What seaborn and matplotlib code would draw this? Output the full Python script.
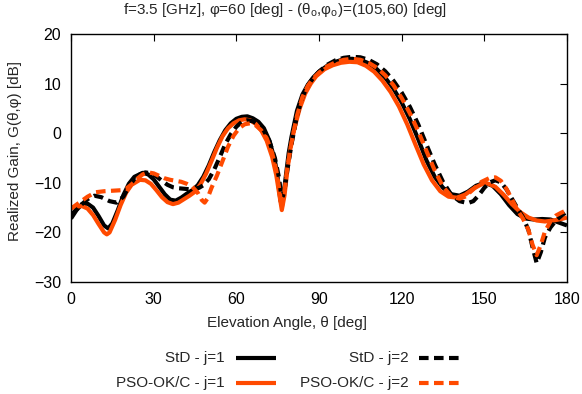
import matplotlib
matplotlib.use("Agg")
import matplotlib.pyplot as plt
from matplotlib.lines import Line2D
import seaborn as sns
import pandas as pd

# ---- data ----
theta_std1 = [0, 2, 4, 6, 8, 10, 12, 13.5, 15, 17, 19, 21, 23, 26, 28, 30, 32, 34, 36, 38, 40, 42, 44, 46, 48, 50,
              52, 54, 56, 58, 60, 62, 64, 66, 68, 70, 72, 74, 75, 76, 76.5, 77, 78, 79, 80, 82, 84, 86, 88, 90, 93,
              96, 99, 102, 105, 108, 111, 114, 117, 120, 123, 126, 129, 132, 135, 138, 141, 144, 147, 150, 153, 156,
              159, 162, 165, 168, 171, 174, 177, 180]
gain_std1 = [-17.2, -15.5, -14.3, -14.2, -15.0, -16.7, -18.6, -19.2, -18.2, -15.5, -12.5, -10.2, -8.8, -8.0, -8.3,
             -9.3, -10.8, -12.3, -13.4, -13.6, -13.0, -12.2, -11.5, -10.5, -8.8, -6.5, -3.8, -1.4, 0.6, 2.0, 2.9,
             3.3, 3.4, 3.0, 2.3, 1.0, -1.5, -5.5, -9.0, -13.5, -14.5, -13.0, -8.5, -4.0, -0.8, 4.5, 7.8, 9.8, 11.3,
             12.4, 13.6, 14.4, 14.9, 15.0, 14.8, 14.1, 12.9, 11.2, 9.0, 6.2, 2.8, -1.2, -5.5, -8.8, -11.0, -12.3,
             -12.6, -11.8, -10.6, -10.0, -10.6, -12.3, -14.5, -16.3, -17.2, -17.4, -17.3, -17.4, -18.0, -18.6]

theta_pso1 = [0, 2, 4, 6, 8, 10, 12, 13, 14, 16, 18, 20, 22, 25, 27, 29, 31, 33, 35, 37, 39, 41, 43, 45, 47, 49, 51,
              53, 55, 57, 59, 61, 63, 65, 67, 69, 71, 73, 74.5, 75.5, 76.5, 77.5, 78.5, 79.5, 81, 83, 85, 87, 89, 92,
              95, 98, 101, 104, 107, 110, 113, 116, 119, 122, 125, 128, 131, 134, 137, 140, 143, 146, 149, 151, 154,
              157, 160, 163, 166, 169, 172, 175, 178, 180]
gain_pso1 = [-15.0, -14.8, -14.7, -15.2, -16.5, -18.3, -20.0, -20.4, -20.0, -17.5, -14.5, -12.0, -10.4, -9.4, -9.5,
             -10.2, -11.5, -12.9, -13.9, -14.3, -14.0, -13.3, -12.6, -11.8, -10.3, -8.2, -5.6, -2.9, -0.6, 1.0, 2.0,
             2.6, 2.8, 2.6, 1.9, 0.6, -1.5, -4.8, -8.5, -12.0, -15.5, -12.5, -7.5, -3.5, 0.8, 5.0, 8.0, 10.0, 11.5,
             12.9, 13.7, 14.2, 14.4, 14.3, 13.6, 12.4, 10.6, 8.3, 5.4, 1.8, -2.3, -6.3, -9.5, -11.7, -12.8, -13.0,
             -12.4, -11.2, -10.3, -10.1, -10.8, -12.4, -14.3, -15.9, -17.0, -17.6, -17.8, -17.6, -17.3, -17.0]

theta_std2 = [0, 3, 6, 8.5, 11, 14, 16.5, 19, 21, 23, 25, 27, 29, 31, 33, 35, 37, 39, 41, 43, 45, 46.5, 48, 50, 52,
              54, 56, 58, 60, 62, 64, 66, 68, 70, 72, 74, 75.5, 76.5, 77.5, 78.5, 80, 82, 84, 86, 88, 90, 93, 96, 99,
              102, 105, 108, 111, 114, 117, 120, 123, 126, 129, 132, 135, 138, 141, 144, 146, 148, 150, 152, 154,
              156, 158, 160, 162, 164, 166, 167.5, 169, 170.5, 172, 174, 176, 178, 180]
gain_std2 = [-16.5, -14.8, -13.3, -12.6, -12.9, -13.7, -14.0, -12.8, -10.8, -9.2, -8.3, -7.9, -8.1, -8.7, -9.6,
             -10.4, -10.9, -11.1, -11.2, -11.3, -11.2, -11.0, -10.5, -9.3, -7.3, -4.8, -2.2, -0.2, 1.3, 2.3, 2.6,
             2.4, 1.7, 0.5, -1.6, -5.0, -9.0, -13.5, -11.5, -7.5, -2.3, 3.5, 7.3, 9.7, 11.2, 12.4, 13.8, 14.7, 15.2,
             15.4, 15.3, 14.8, 13.9, 12.5, 10.6, 8.2, 5.3, 1.8, -2.3, -6.3, -9.8, -12.4, -13.7, -14.1, -13.7, -12.5,
             -11.0, -9.9, -9.5, -9.9, -11.3, -13.2, -15.1, -16.9, -19.5, -23.0, -26.2, -24.0, -21.0, -19.0, -17.6,
             -16.6, -15.8]

theta_pso2 = [0, 3, 6, 9, 12, 15, 18, 20, 22, 24, 26, 28, 30, 32, 34, 36, 38, 40, 42, 44, 46, 47.5, 48.5, 49.5, 51,
              53, 55, 57, 59, 61, 63, 65, 67, 69, 71, 73, 74.5, 75.5, 76.5, 77.5, 78.5, 80, 82, 84, 86, 88, 90, 93,
              96, 99, 102, 105, 108, 111, 114, 117, 120, 123, 126, 129, 132, 135, 138, 141, 143, 146, 149, 152, 154,
              156, 158, 160, 162, 164, 166, 167.5, 169, 170.5, 172, 174, 176, 178, 180]
gain_pso2 = [-15.2, -14.0, -12.8, -11.9, -11.7, -11.6, -11.5, -11.2, -10.3, -9.2, -8.3, -7.9, -8.1, -8.6, -9.1,
             -9.4, -9.6, -9.8, -10.2, -10.8, -12.0, -13.5, -14.0, -13.2, -11.0, -8.5, -5.6, -2.7, -0.5, 1.0, 1.8,
             2.0, 1.6, 0.6, -1.0, -4.0, -7.5, -11.0, -15.0, -11.5, -7.0, -2.0, 3.5, 7.3, 9.6, 11.1, 12.2, 13.5,
             14.3, 14.8, 15.0, 14.8, 14.2, 13.2, 11.7, 9.7, 7.1, 4.0, 0.4, -3.6, -7.5, -10.8, -12.7, -13.2, -12.8,
             -11.3, -9.8, -9.0, -8.9, -9.6, -11.2, -13.3, -15.5, -17.2, -19.5, -22.5, -24.6, -22.5, -19.8, -17.8,
             -16.6, -16.0, -15.5]

series_labels = ["StD - j=1", "PSO-OK/C - j=1", "StD - j=2", "PSO-OK/C - j=2"]
x_ticks = [0, 30, 60, 90, 120, 150, 180]
y_ticks = [-30, -20, -10, 0, 10, 20]
title = "f=3.5 [GHz], φ=60 [deg] - (θ$_{\\mathregular{o}}$,φ$_{\\mathregular{o}}$)=(105,60) [deg]"

# ---- style ----
sns.set_style("white")
plt.rcParams["font.family"] = ["Liberation Sans", "DejaVu Sans"]
plt.rcParams["font.size"] = 11

BLACK = "#000000"
ORANGE = "#ff4a00"
LW = 3.0
DASH = (2.3, 1.3)

fig = plt.figure(figsize=(5.82, 3.94), dpi=100)
ax = fig.add_axes([71 / 582, 1 - 282 / 394, (567 - 71) / 582, (282 - 34) / 394])

data = [
    (theta_std1, gain_std1, BLACK, "-"),
    (theta_pso1, gain_pso1, ORANGE, "-"),
    (theta_std2, gain_std2, BLACK, "--"),
    (theta_pso2, gain_pso2, ORANGE, "--"),
]
for (th, g, col, ls), lab in zip(data, series_labels):
    df = pd.DataFrame({"theta": th, "gain": g})
    line_kw = dict(color=col, linewidth=LW, solid_capstyle="butt", dash_capstyle="butt")
    sns.lineplot(data=df, x="theta", y="gain", ax=ax, estimator=None, sort=False, **line_kw)
    ln = ax.lines[-1]
    if ls == "--":
        ln.set_dashes(DASH)

ax.set_xlim(0, 180)
ax.set_ylim(-30, 20)
ax.set_xticks(x_ticks)
ax.set_yticks(y_ticks)
ax.tick_params(direction="in", length=5, width=0.8, top=True, right=True, labelsize=11.5, pad=7, colors="black")
for sp in ax.spines.values():
    sp.set_color("black")
    sp.set_linewidth(1.0)
ax.set_xlabel("Elevation Angle, θ [deg]", fontsize=11)
ax.set_ylabel("Realized Gain, G(θ,φ) [dB]", fontsize=11)
ax.xaxis.set_label_coords(0.435, (282 - 323) / 248)
ax.yaxis.set_label_coords((15 - 71) / 496, (282 - 151) / 248)
ax.xaxis.label.set_va("center")
ax.yaxis.label.set_va("center")

fig.text(0.49, 1 - 10 / 394, title, ha="center", va="center", fontsize=11)

# ---- legend (gnuplot style: text to the left of sample) ----
rows_y = [1 - 358 / 394, 1 - 383 / 394]
cols = [(225, 236, 276), (409, 419, 459)]
entries = [(0, 0, 0), (1, 1, 0), (2, 0, 1), (3, 1, 1)]
for idx, r, c in entries:
    th, g, col, ls = data[idx]
    tx, x0, x1 = cols[c]
    y = rows_y[r]
    fig.text(tx / 582, y, series_labels[idx], ha="right", va="center", fontsize=11)
    ln = Line2D([x0 / 582, x1 / 582], [y, y], transform=fig.transFigure, color=col, linewidth=LW,
                solid_capstyle="butt", dash_capstyle="butt")
    if ls == "--":
        ln.set_dashes(DASH)
    fig.add_artist(ln)

fig.savefig("out.png", dpi=100)
